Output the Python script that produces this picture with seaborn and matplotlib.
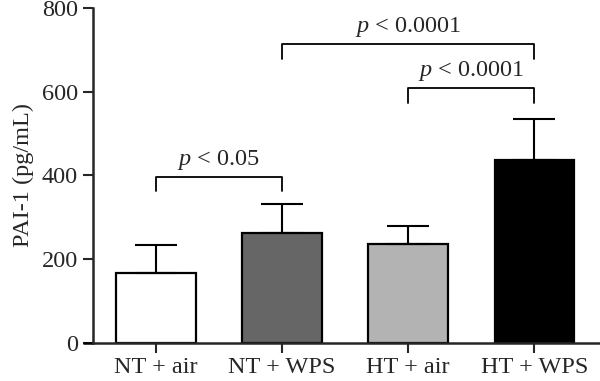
import numpy as np
import pandas as pd
import seaborn as sns
import matplotlib
matplotlib.use('Agg')
import matplotlib.pyplot as plt

# Data
groups = ['NT + air', 'NT + WPS', 'HT + air', 'HT + WPS']
means = [166, 262, 236, 437]
sd = [68, 71, 44, 99]
colors = ['#ffffff', '#666666', '#b3b3b3', '#000000']

# significance brackets: (left group, right group, bracket y, label)
brackets = [
    (0, 1, 397, ' < 0.05'),
    (1, 3, 713, ' < 0.0001'),
    (2, 3, 608, ' < 0.0001'),
]

df = pd.DataFrame({'group': groups, 'mean': means, 'sd': sd})

sns.set_style('ticks')
plt.rcParams['font.family'] = ['Liberation Serif', 'DejaVu Serif']
plt.rcParams['mathtext.fontset'] = 'custom'
plt.rcParams['mathtext.it'] = 'Liberation Serif:italic'
plt.rcParams['mathtext.rm'] = 'Liberation Serif'

fs = 17.5
fig = plt.figure(figsize=(6, 3.81), dpi=100)
ax = fig.add_axes([0.1545, 0.0997, 0.8455, 0.8795])

sns.barplot(data=df, x='group', y='mean', hue='group', palette=colors,
            order=groups, hue_order=groups, legend=False, width=0.63,
            edgecolor='black', linewidth=1.6, errorbar=None, ax=ax)

# upper-only error bars
x = np.arange(len(groups))
ax.errorbar(x, df['mean'], yerr=[np.zeros(len(sd)), df['sd']], fmt='none',
            ecolor='black', elinewidth=1.5, capsize=15, capthick=1.5, zorder=1)

ax.set_xlim(-0.5, 3.52)
ax.set_ylim(0, 800)
ax.set_yticks([0, 200, 400, 600, 800])
ax.set_xlabel('')
ax.set_ylabel('PAI-1 (pg/mL)', fontsize=fs, labelpad=6)
ax.tick_params(axis='both', labelsize=fs, width=1.5, length=7, direction='out')
ax.tick_params(axis='x', pad=3)
for s in ['left', 'bottom']:
    ax.spines[s].set_linewidth(1.8)
sns.despine(ax=ax)
# x axis sticks out a little to the left of the y axis (Prism style)
ax.plot([-0.575, -0.5], [0, 0], color='black', lw=1.8, clip_on=False,
        solid_capstyle='butt')

# brackets
leg = 35
for a, b, yb, rest in brackets:
    ax.plot([a, a, b, b], [yb - leg, yb, yb, yb - leg], color='black', lw=1.3,
            clip_on=False)
    ax.text((a + b) / 2, yb + 12, r'$\mathit{p}$' + rest, ha='center', va='bottom',
            fontsize=fs)

fig.savefig('out.png', dpi=100)
